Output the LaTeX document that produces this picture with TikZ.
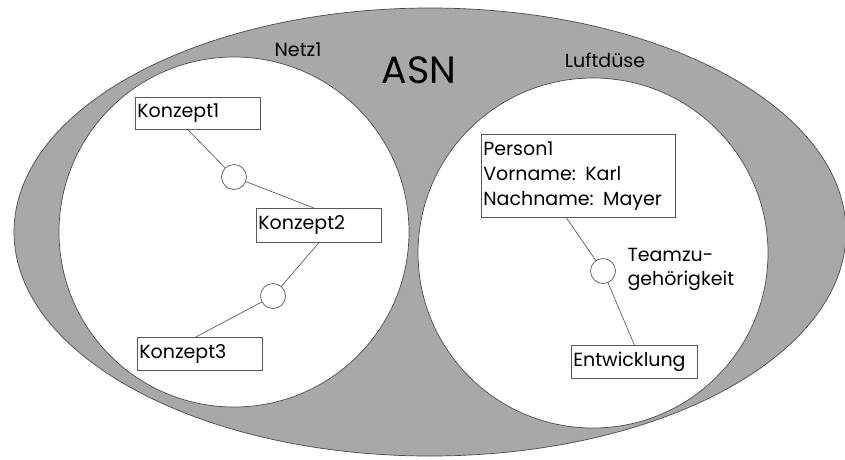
\documentclass[tikz,border=0pt]{standalone}
\usepackage{fontspec}
\setmainfont{Poppins}
\definecolor{asngrau}{RGB}{168,168,168}
\tikzset{
	konzept/.style = {draw = black!65, fill = white, line width = 0.7pt, inner sep = 2pt, align = left, anchor = north west, font = \fontsize{19}{25}\selectfont},
	rolle/.style = {draw = black!65, circle, fill = white, minimum size = 25pt, inner sep = 0pt, line width = 0.7pt},
	verbindung/.style = {draw = black!70, line width = 0.6pt},
	beschriftung/.style = {font = \fontsize{19}{24}\selectfont, align = left}
}
\begin{document}
\begin{tikzpicture}[x = 1pt, y = -1pt]
					\useasboundingbox (0, 0) rectangle (845, 459);

					\coordinate (asn) at (430, 232);
					\coordinate (netz) at (234, 232);
					\coordinate (luft) at (593, 253);

					\draw [draw = black!70, fill = asngrau, line width = 0.7pt] (asn) ellipse [x radius = 416, y radius = 224];
					\draw [draw = black!70, fill = white, line width = 0.7pt] (netz) circle [radius = 175];
					\draw [draw = black!70, fill = white, line width = 0.7pt] (luft) circle [radius = 175];

					\node [font = \fontsize{38}{38}\selectfont] (asnname) at (419, 70) {ASN};
					\node [beschriftung] (netzname) at (298, 50) {Netz1};
					\node [beschriftung] (luftname) at (605, 60) {Luftdüse};

					\node [konzept, text width = 121pt, minimum height = 32pt] (k1) at (135, 97) {Konzept1};
					\node [konzept, text width = 121pt, minimum height = 34pt] (k2) at (256, 208) {Konzept2};
					\node [konzept, text width = 121pt, minimum height = 33pt] (k3) at (137, 337) {Konzept3};
					\node [konzept, text width = 190pt, minimum height = 83pt] (p1) at (481, 134) {Person1\\Vorname: Karl\\Nachname: Mayer};
					\node [konzept, text width = 122pt, minimum height = 33pt] (e1) at (571, 345) {Entwicklung};

					\node [rolle] (r1) at (234, 177) {};
					\node [rolle] (r2) at (273, 296) {};
					\node [rolle] (r3) at (603, 271) {};

					\node [beschriftung, anchor = west] (team) at (624, 269) {Teamzu-\\gehörigkeit};

					\draw [verbindung] ([xshift = -10]k1.south) -- (r1);
					\draw [verbindung] (r1) -- ([xshift = -5]k2.north);
					\draw [verbindung] (k2.south) -- (r2);
					\draw [verbindung] (r2) -- ([xshift = -4]k3.north);
					\draw [verbindung] ([xshift = -12]p1.south) -- (r3);
					\draw [verbindung] (r3) -- (e1.north);
				\end{tikzpicture}
\end{document}
